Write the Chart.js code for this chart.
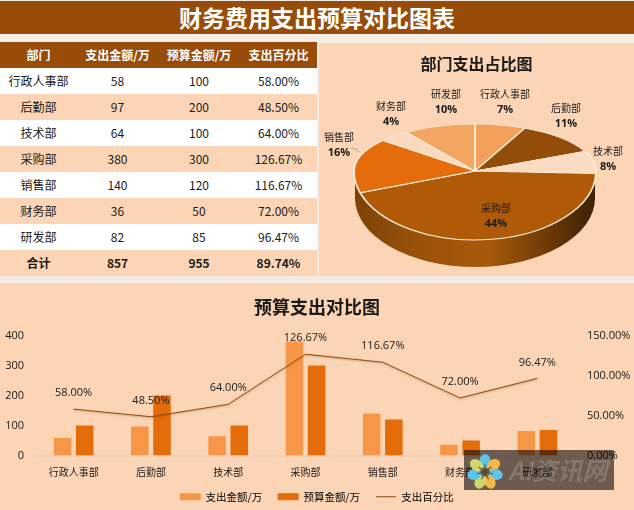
<!DOCTYPE html>
<html>
<head>
<meta charset="utf-8">
<script src="https://cdn.jsdelivr.net/npm/chart.js@4/dist/chart.umd.min.js"></script>
<style>
html, body { margin: 0; padding: 0; }
body { width: 634px; height: 510px; background: #f3ebe4; position: relative; overflow: hidden;
       font-family: "Noto Sans CJK SC", sans-serif; color: #1a1a1a; }
#banner { position: absolute; left: 0; top: 1px; width: 634px; height: 33px; background: #974c09; color: #fff;
          font-size: 23px; font-weight: bold; line-height: 33px; text-align: center; }
#tbl { position: absolute; left: 0; top: 42px; width: 317px; border-collapse: collapse; table-layout: fixed; font-size: 12px; }
#tbl th, #tbl td { padding: 0; text-align: center; height: 26px; line-height: 24px; }
#tbl th { background: #974c09; color: #fff; font-size: 12px; line-height: 26px; }
#tbl tr.odd td { background: #fff; }
#tbl tr.even td { background: #fbd5b5; }
#tbl tr.sum td { font-weight: bold; }
.panel { position: absolute; background: #fbd5b5; }
#piePanel { left: 319px; top: 43px; width: 315px; height: 233px; }
#barPanel { left: 0; top: 283px; width: 634px; height: 227px; }
canvas { position: absolute; left: 0; top: 0; }
#markBox { position: absolute; left: 464px; top: 450px; width: 150px; height: 40px; background: #6f6d6f; mix-blend-mode: multiply; }
#mark { position: absolute; left: 464px; top: 450px; width: 150px; height: 40px; overflow: hidden; }
#mark svg { position: absolute; left: 1px; top: 4px; }
#mark span { position: absolute; left: 44px; top: 2px; font: italic bold 25px/34px "Noto Sans CJK SC", sans-serif; color: rgba(255, 255, 255, 0.17); white-space: nowrap; }
</style>
</head>
<body>
<div id="banner">财务费用支出预算对比图表</div>
<table id="tbl"><colgroup><col style="width:77px"><col style="width:81px"><col style="width:82px"><col style="width:77px"></colgroup><thead></thead><tbody></tbody></table>
<div class="panel" id="piePanel"><canvas id="pieChart" width="315" height="233"></canvas></div>
<div class="panel" id="barPanel"><canvas id="barChart" width="634" height="227"></canvas></div>
<div id="markBox"></div>
<div id="mark">
  <svg width="40" height="36" viewBox="-20 -18 40 36">
    <g id="petals"></g>
  </svg>
  <span>AI资讯网</span>
</div>
<script>
// values
const departments = ['行政人事部', '后勤部', '技术部', '采购部', '销售部', '财务部', '研发部'];
const spend = [58, 97, 64, 380, 140, 36, 82];
const budget = [100, 200, 100, 300, 120, 50, 85];
const spendPercent = [58.00, 48.50, 64.00, 126.67, 116.67, 72.00, 96.47];
const tableHeader = ['部门', '支出金额/万', '预算金额/万', '支出百分比'];
const totalRow = ['合计', '857', '955', '89.74%'];
const pieLabels = ['7%', '11%', '8%', '44%', '16%', '4%', '10%'];
const sliceColors = ['#f4a05a', '#934c0a', '#fbdcc2', '#b05a08', '#e46c0a', '#fad9bf', '#f3a562'];
const leftTicks = [0, 100, 200, 300, 400];
const rightTicks = [0, 50, 100, 150];

const labelFont = '"Noto Sans CJK SC", sans-serif';
const numFont = '"Open Sans", sans-serif';

// table
const thead = document.querySelector('#tbl thead');
const tbody = document.querySelector('#tbl tbody');
thead.innerHTML = '<tr>' + tableHeader.map(h => '<th>' + h + '</th>').join('') + '</tr>';
departments.forEach((d, i) => {
    const row = document.createElement('tr');
    row.className = i % 2 === 0 ? 'odd' : 'even';
    [d, spend[i], budget[i], spendPercent[i].toFixed(2) + '%'].forEach(v => {
        const td = document.createElement('td');
        td.textContent = v;
        row.appendChild(td);
    });
    tbody.appendChild(row);
});
const sumRow = document.createElement('tr');
sumRow.className = 'even sum';
sumRow.innerHTML = totalRow.map(v => '<td>' + v + '</td>').join('');
tbody.appendChild(sumRow);

// watermark flower
const petalColors = ['#5cc4e6', '#f2b84b', '#5cc4e6', '#f2b84b', '#cfd66a', '#5cc4e6', '#cfd66a'];
document.getElementById('petals').innerHTML = petalColors.map((c, i) =>
    '<ellipse cx="0" cy="-11" rx="5.5" ry="7" fill="' + c + '" transform="rotate(' + (i * 360 / 7) + ')"/>' +
    '<line x1="0" y1="0" x2="0" y2="-8" stroke="#5a4030" stroke-width="1" transform="rotate(' + (i * 360 / 7) + ')"/>').join('');

// pie: top face is squashed more above the centre than below it, like the perspective in the picture
const pieCenter = { x: 156, y: 128 };
const pieRadius = 121;
const upperRy = 47;
const lowerRy = 69;
const pieDepth = 27;

// label centres relative to the pie centre, one per slice
const pieLabelOffsets = [[30, -69], [91, -55], [133, -12], [21, 45], [-136, -26], [-84, -57], [-29, -69]];

const pie3d = {
    id: 'pie3d',
    beforeDatasetDraw(chart, args) {
        const ctx = chart.ctx;
        const arc = chart.getDatasetMeta(0).data[0];
        const r = arc.outerRadius;
        const W = chart.width, H = chart.height;

        // rim below the front half
        const grad = ctx.createLinearGradient(pieCenter.x - pieRadius, 0, pieCenter.x + pieRadius, 0);
        grad.addColorStop(0, '#7d4207');
        grad.addColorStop(0.25, '#99520a');
        grad.addColorStop(0.55, '#a85a0a');
        grad.addColorStop(0.8, '#6e3a07');
        grad.addColorStop(1, '#3b2005');
        ctx.save();
        ctx.fillStyle = grad;
        ctx.beginPath();
        ctx.ellipse(pieCenter.x, pieCenter.y + pieDepth, pieRadius - 1, lowerRy, 0, 0, Math.PI);
        ctx.lineTo(pieCenter.x - pieRadius + 1, pieCenter.y);
        ctx.lineTo(pieCenter.x + pieRadius - 1, pieCenter.y);
        ctx.closePath();
        ctx.fill();
        ctx.restore();

        // top face, drawn by the controller under two vertical scales
        [[0, pieCenter.y, upperRy], [pieCenter.y, H - pieCenter.y, lowerRy]].forEach(part => {
            ctx.save();
            ctx.beginPath();
            ctx.rect(0, part[0], W, part[1]);
            ctx.clip();
            ctx.translate(pieCenter.x, pieCenter.y);
            ctx.scale(pieRadius / r, part[2] / r);
            ctx.translate(-arc.x, -arc.y);
            args.meta.controller.draw();
            ctx.restore();
        });
        return false;
    },
    afterDatasetsDraw(chart) {
        const ctx = chart.ctx;
        ctx.save();
        ctx.textAlign = 'center';
        ctx.textBaseline = 'middle';
        ctx.fillStyle = '#1a1a1a';
        departments.forEach((d, i) => {
            const x = pieCenter.x + pieLabelOffsets[i][0];
            const y = pieCenter.y + pieLabelOffsets[i][1];
            ctx.font = '10px ' + labelFont;
            ctx.fillText(d, x, y - 8);
            ctx.font = 'bold 11px ' + numFont;
            ctx.fillText(pieLabels[i], x, y + 8);
        });
        // leader line for 销售部
        ctx.strokeStyle = '#a08c7c';
        ctx.lineWidth = 0.7;
        ctx.beginPath();
        ctx.moveTo(pieCenter.x - 124, pieCenter.y - 23);
        ctx.quadraticCurveTo(pieCenter.x - 118, pieCenter.y - 23, pieCenter.x - 116, pieCenter.y - 19);
        ctx.stroke();
        ctx.restore();
    }
};

new Chart(document.getElementById('pieChart'), {
    type: 'pie',
    data: {
        labels: departments,
        datasets: [{
            data: spend,
            backgroundColor: sliceColors,
            borderColor: '#fdeedd',
            borderWidth: 1.5,
            clip: false
        }]
    },
    options: {
        responsive: false,
        animation: false,
        layout: { padding: 0 },
        plugins: {
            legend: { display: false },
            tooltip: { enabled: false },
            title: {
                display: true,
                text: '部门支出占比图',
                color: '#1a1a1a',
                font: { family: labelFont, size: 16, weight: 'bold' },
                padding: { top: 11, bottom: 0 }
            }
        }
    },
    plugins: [pie3d]
});

// bars + line
const percentLabels = {
    id: 'percentLabels',
    afterLayout(chart) {
        // legend sits closer to the axis labels than Chart.js leaves it
        chart.legend.top -= 4;
    },
    beforeDatasetDraw(chart, args) {
        if (args.index === 2) {
            chart.ctx.save();
            chart.ctx.shadowColor = 'rgba(90, 50, 10, 0.35)';
            chart.ctx.shadowBlur = 2;
            chart.ctx.shadowOffsetY = 1;
        }
    },
    afterDatasetDraw(chart, args) {
        if (args.index === 2) chart.ctx.restore();
    },
    afterDatasetsDraw(chart) {
        const ctx = chart.ctx;
        ctx.save();
        ctx.font = '11px ' + numFont;
        ctx.fillStyle = '#1a1a1a';
        ctx.textAlign = 'center';
        ctx.textBaseline = 'middle';
        chart.getDatasetMeta(2).data.forEach((pt, i) => {
            ctx.fillText(spendPercent[i].toFixed(2) + '%', pt.x, pt.y - 16);
        });
        ctx.restore();
    }
};

new Chart(document.getElementById('barChart'), {
    data: {
        labels: departments,
        datasets: [
            { type: 'bar', label: '支出金额/万', data: spend, backgroundColor: '#f79646', yAxisID: 'y', order: 2, pointStyle: 'rect',
              categoryPercentage: 0.574, barPercentage: 0.79 },
            { type: 'bar', label: '预算金额/万', data: budget, backgroundColor: '#e46c0a', yAxisID: 'y', order: 2, pointStyle: 'rect',
              categoryPercentage: 0.574, barPercentage: 0.79 },
            { type: 'line', label: '支出百分比', data: spendPercent, borderColor: '#8e4a0c', borderWidth: 1, pointRadius: 0, tension: 0,
              yAxisID: 'y2', order: 1, pointStyle: 'line', backgroundColor: '#8e4a0c' }
        ]
    },
    options: {
        responsive: false,
        animation: false,
        layout: { padding: { left: 0, right: 0, top: 0, bottom: -6 } },
        scales: {
            x: {
                afterFit(axis) { axis.height = 24; },
                grid: { display: false },
                border: { color: '#ecd0b8', width: 2 },
                ticks: { color: '#1a1a1a', font: { family: labelFont, size: 10 }, padding: 3, maxRotation: 0, autoSkip: false }
            },
            y: {
                min: 0, max: 400,
                afterFit(axis) { axis.width = 35; },
                afterBuildTicks(axis) { axis.ticks = leftTicks.map(v => ({ value: v })); },
                grid: { display: false },
                border: { display: false },
                ticks: { color: '#1a1a1a', font: { family: numFont, size: 11 }, padding: 3 }
            },
            y2: {
                position: 'right',
                min: 0, max: 150,
                afterFit(axis) { axis.width = 58; },
                afterBuildTicks(axis) { axis.ticks = rightTicks.map(v => ({ value: v })); },
                grid: { display: false },
                border: { display: false },
                ticks: {
                    color: '#1a1a1a',
                    font: { family: numFont, size: 11 },
                    padding: 3,
                    callback: v => v.toFixed(2) + '%'
                }
            }
        },
        plugins: {
            tooltip: { enabled: false },
            title: {
                display: true,
                text: '预算支出对比图',
                color: '#1a1a1a',
                font: { family: labelFont, size: 18, weight: 'bold' },
                padding: { top: 13, bottom: 18 }
            },
            legend: {
                position: 'bottom',
                labels: {
                    usePointStyle: true,
                    pointStyleWidth: 20,
                    boxHeight: 6,
                    color: '#1a1a1a',
                    padding: 16,
                    font: { family: labelFont, size: 10.5 },
                    generateLabels(chart) {
                        return chart.data.datasets.map((ds, i) => ({
                            text: ds.label,
                            fillStyle: ds.backgroundColor,
                            strokeStyle: ds.type === 'line' ? ds.borderColor : ds.backgroundColor,
                            lineWidth: 1,
                            pointStyle: ds.pointStyle,
                            hidden: false,
                            datasetIndex: i
                        }));
                    }
                }
            }
        }
    },
    plugins: [percentLabels]
});
</script>
</body>
</html>
